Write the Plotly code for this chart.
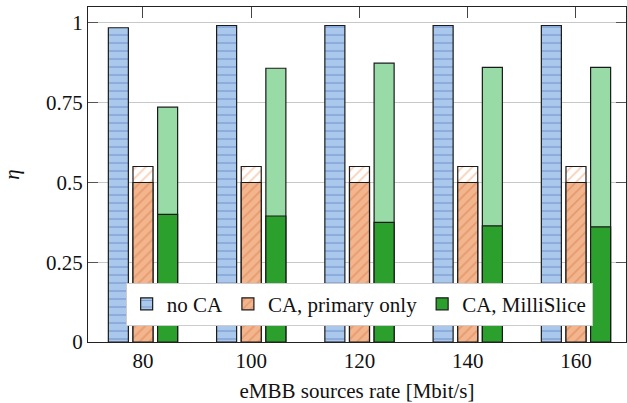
import plotly.graph_objects as go

rates = [80, 100, 120, 140, 160]
no_ca = [0.985, 0.992, 0.992, 0.992, 0.992]
primary_only = [0.5, 0.5, 0.5, 0.5, 0.5]
primary_demand = [0.55, 0.55, 0.55, 0.55, 0.55]
millislice_total = [0.736, 0.858, 0.874, 0.861, 0.861]
millislice_primary = [0.400, 0.395, 0.375, 0.364, 0.361]

y_ticks = [0, 0.25, 0.5, 0.75, 1]
y_tick_labels = ["0", "0.25", "0.5", "0.75", "1"]

BW = 3.7
GAP = 4.55
FONT = "Liberation Serif"
FS = 21
OUT = dict(color="#1a1a1a", width=1.2)

fig = go.Figure()

fig.add_trace(go.Bar(
    x=rates, y=no_ca, width=BW, offset=-GAP - BW / 2, name="no CA",
    marker=dict(color="#aac8ec", line=OUT,
                pattern=dict(shape="-", fgcolor="#4a68b0", bgcolor="#aac8ec",
                             size=8, solidity=0.15, fillmode="overlay")),
))
fig.add_trace(go.Bar(
    x=rates, y=primary_demand, width=BW, offset=-BW / 2, showlegend=False,
    marker=dict(color="#ffffff", line=OUT,
                pattern=dict(shape="/", fgcolor="#f0a070", bgcolor="#ffffff",
                             size=7, solidity=0.25, fillmode="overlay")),
))
fig.add_trace(go.Bar(
    x=rates, y=primary_only, width=BW, offset=-BW / 2, name="CA, primary only",
    marker=dict(color="#f3b58d", line=OUT,
                pattern=dict(shape="/", fgcolor="#d97f4c", bgcolor="#f3b58d",
                             size=7, solidity=0.25, fillmode="overlay")),
))
fig.add_trace(go.Bar(
    x=rates, y=millislice_total, width=BW, offset=GAP - BW / 2, showlegend=False,
    marker=dict(color="#98dba7", line=OUT),
))
fig.add_trace(go.Bar(
    x=rates, y=millislice_primary, width=BW, offset=GAP - BW / 2, name="CA, MilliSlice",
    marker=dict(color="#2ca02c", line=OUT),
))

fig.update_layout(
    width=627, height=403,
    margin=dict(l=88, r=1, t=7, b=61, autoexpand=False),
    barmode="overlay",
    plot_bgcolor="white", paper_bgcolor="white",
    font=dict(family=FONT, size=FS, color="#111"),
    legend=dict(orientation="h", x=0.504, y=0.113, xanchor="center", yanchor="middle",
                bgcolor="white", bordercolor="#cccccc", borderwidth=1,
                font=dict(family=FONT, size=FS), itemwidth=30, tracegroupgap=0),
    xaxis=dict(range=[69.84, 169.24], tickvals=rates, ticktext=[str(r) for r in rates],
               ticks="inside", ticklen=11, tickcolor="#444", showline=True,
               linecolor="#222", linewidth=1.2, mirror="ticks", showgrid=False,
               layer="below traces", tickfont=dict(family=FONT, size=FS), automargin=False,
               title=dict(text="eMBB sources rate [Mbit/s]", font=dict(family=FONT, size=FS), standoff=12)),
    yaxis=dict(range=[0, 1.05], tickvals=y_ticks, ticktext=y_tick_labels,
               ticks="inside", ticklen=10, tickcolor="#555", showline=True,
               linecolor="#222", linewidth=1.2, mirror="ticks", showgrid=True,
               gridcolor="#c8c8c8", gridwidth=1, layer="below traces",
               zeroline=False, tickfont=dict(family=FONT, size=FS), automargin=False,
               title=dict(text="<i>η</i>", font=dict(family=FONT, size=FS), standoff=22)),
)

fig.write_html("out.html", config={"displayModeBar": False},
               post_script="document.body.style.margin='0';")
